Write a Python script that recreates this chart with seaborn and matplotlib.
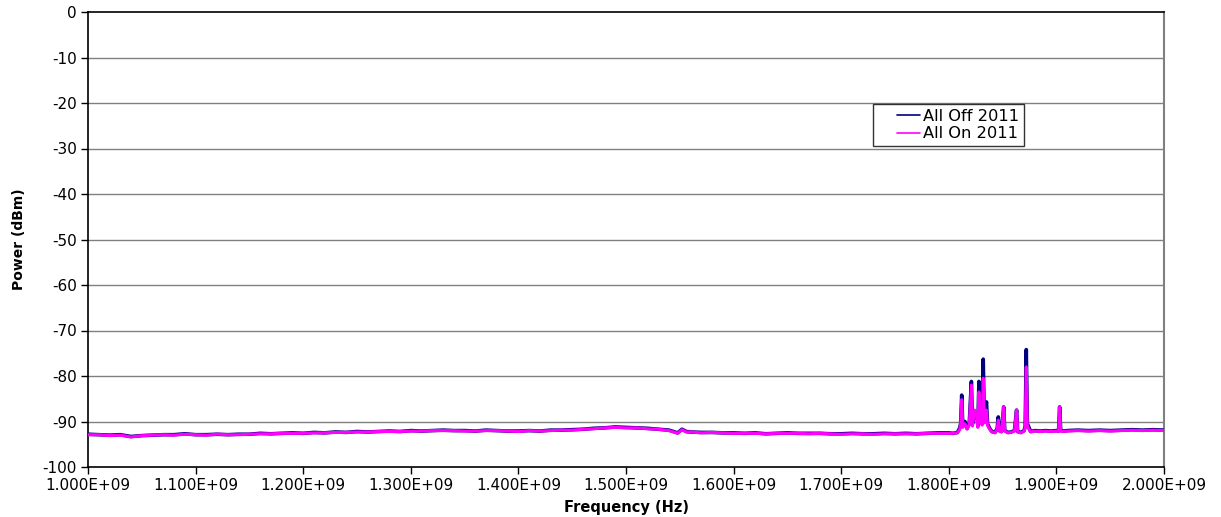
import numpy as np
import pandas as pd
import matplotlib
matplotlib.use("Agg")
import matplotlib.pyplot as plt
import seaborn as sns

# ---------------- data (frequency in MHz, power in dBm) ----------------
freq_mhz = [
    1000, 1010, 1020, 1030, 1040, 1050, 1060, 1070, 1080, 1090,
    1100, 1110, 1120, 1130, 1140, 1150, 1160, 1170, 1180, 1190,
    1200, 1210, 1220, 1230, 1240, 1250, 1260, 1270, 1280, 1290,
    1300, 1310, 1320, 1330, 1340, 1350, 1360, 1370, 1380, 1390,
    1400, 1410, 1420, 1430, 1440, 1450, 1460, 1470, 1480, 1490,
    1500, 1510, 1520, 1530, 1540, 1548, 1552, 1556, 1560, 1570,
    1580, 1590, 1600, 1610, 1620, 1630, 1640, 1650, 1660, 1670,
    1680, 1690, 1700, 1710, 1720, 1730, 1740, 1750, 1760, 1770,
    1780, 1790, 1800, 1804, 1808, 1810, 1811, 1812, 1813, 1815,
    1817, 1819, 1821, 1822, 1824, 1826, 1827, 1828, 1829, 1830,
    1831, 1832, 1833, 1835, 1836, 1838, 1840, 1843, 1845, 1846,
    1847, 1849, 1851, 1852, 1855, 1858, 1861, 1863, 1864, 1867,
    1870, 1871, 1872, 1873, 1874, 1876, 1880, 1885, 1890, 1895,
    1900, 1902, 1903, 1904, 1907, 1910, 1920, 1930, 1940, 1950,
    1960, 1970, 1980, 1990, 2000,
]

all_off = [
    -92.8, -92.9, -93.0, -92.9, -93.3, -93.1, -93.0, -92.9, -92.9, -92.7,
    -92.9, -92.9, -92.8, -92.9, -92.8, -92.8, -92.6, -92.7, -92.6, -92.5,
    -92.6, -92.4, -92.5, -92.3, -92.4, -92.2, -92.3, -92.2, -92.1, -92.2,
    -92.0, -92.1, -92.0, -91.9, -92.0, -92.0, -92.1, -91.9, -92.0, -92.1,
    -92.1, -92.0, -92.1, -91.9, -91.9, -91.8, -91.7, -91.5, -91.4, -91.2,
    -91.3, -91.4, -91.5, -91.7, -91.9, -92.5, -91.7, -92.2, -92.3, -92.4,
    -92.4, -92.5, -92.5, -92.6, -92.5, -92.7, -92.6, -92.5, -92.6, -92.6,
    -92.6, -92.7, -92.7, -92.6, -92.7, -92.7, -92.6, -92.7, -92.6, -92.7,
    -92.6, -92.5, -92.5, -92.6, -92.4, -91.5, -90.5, -84.2, -91.0, -90.0,
    -91.5, -90.5, -81.2, -90.5, -88.5, -88.2, -91.0, -81.2, -90.0, -87.5,
    -90.5, -76.3, -90.0, -85.7, -90.5, -91.5, -92.2, -92.4, -91.5, -89.0,
    -92.0, -92.2, -86.8, -92.0, -92.4, -92.3, -92.0, -87.5, -92.2, -92.4,
    -92.0, -91.0, -74.2, -90.5, -91.0, -92.2, -92.0, -92.1, -92.0, -92.1,
    -92.0, -92.1, -86.8, -92.0, -92.1, -92.0, -91.9, -92.0, -91.9, -92.0,
    -91.9, -91.8, -91.9, -91.8, -91.9,
]

all_on = [
    -92.9, -92.9, -93.1, -93.0, -93.4, -93.1, -93.0, -92.9, -93.0, -92.8,
    -92.9, -93.0, -92.8, -92.9, -92.9, -92.8, -92.7, -92.7, -92.6, -92.6,
    -92.6, -92.5, -92.5, -92.4, -92.4, -92.3, -92.3, -92.2, -92.2, -92.2,
    -92.1, -92.1, -92.0, -92.0, -92.0, -92.1, -92.1, -92.0, -92.0, -92.1,
    -92.2, -92.0, -92.1, -92.0, -91.9, -91.9, -91.7, -91.6, -91.4, -91.3,
    -91.4, -91.4, -91.6, -91.7, -92.0, -92.6, -91.8, -92.3, -92.3, -92.5,
    -92.4, -92.5, -92.6, -92.6, -92.6, -92.7, -92.6, -92.6, -92.6, -92.7,
    -92.6, -92.7, -92.8, -92.7, -92.7, -92.8, -92.7, -92.7, -92.7, -92.7,
    -92.6, -92.6, -92.6, -92.6, -92.5, -91.8, -90.8, -85.2, -91.3, -90.5,
    -91.7, -90.8, -82.0, -91.0, -87.5, -89.0, -91.3, -83.5, -90.3, -88.0,
    -90.8, -80.5, -90.3, -87.5, -90.8, -91.7, -92.3, -92.5, -91.7, -89.7,
    -92.1, -92.3, -86.8, -92.1, -92.5, -92.4, -92.1, -87.5, -92.3, -92.5,
    -92.1, -91.3, -78.0, -91.0, -91.5, -92.3, -92.1, -92.2, -92.1, -92.2,
    -92.1, -92.2, -86.8, -92.1, -92.2, -92.1, -92.0, -92.1, -92.0, -92.1,
    -92.0, -91.9, -92.0, -91.9, -92.0,
]

series_names = ["All Off 2011", "All On 2011"]
series_colors = ["#000080", "#FF00FF"]
x_ticks_hz = [1.0e9, 1.1e9, 1.2e9, 1.3e9, 1.4e9, 1.5e9, 1.6e9, 1.7e9, 1.8e9, 1.9e9, 2.0e9]
y_ticks = [0, -10, -20, -30, -40, -50, -60, -70, -80, -90, -100]

# ---------------- figure ----------------
sns.set_theme(style="white")
plt.rcParams["font.family"] = ["DejaVu Sans"]
plt.rcParams["axes.unicode_minus"] = False
plt.rcParams["text.color"] = "black"
plt.rcParams["axes.labelcolor"] = "black"
plt.rcParams["xtick.color"] = "black"
plt.rcParams["ytick.color"] = "black"

fig = plt.figure(figsize=(12.21, 5.17), dpi=100)
ax = fig.add_axes([88 / 1221, 1 - 467 / 517, (1164 - 88) / 1221, (467 - 12) / 517])

freq_hz = np.array(freq_mhz, dtype=float) * 1e6
df = pd.concat([
    pd.DataFrame({"Frequency": freq_hz, "Power": all_off, "Series": series_names[0]}),
    pd.DataFrame({"Frequency": freq_hz, "Power": all_on, "Series": series_names[1]}),
], ignore_index=True)

for gy in y_ticks[1:-1]:
    ax.axhline(gy, color="#808080", lw=1.0, zorder=0)

sns.lineplot(data=df[df["Series"] == series_names[0]], x="Frequency", y="Power",
             color=series_colors[0], lw=2.6, ax=ax, label=series_names[0],
             estimator=None, sort=False, zorder=3)
sns.lineplot(data=df[df["Series"] == series_names[1]], x="Frequency", y="Power",
             color=series_colors[1], lw=2.2, ax=ax, label=series_names[1],
             estimator=None, sort=False, zorder=4)

ax.set_xlim(1.0e9, 2.0e9)
ax.set_ylim(-100, 0)
ax.set_xticks(x_ticks_hz)
ax.set_xticklabels(["{:.3E}".format(v) for v in x_ticks_hz], fontsize=11)
ax.set_yticks(y_ticks)
ax.set_yticklabels([str(v) for v in y_ticks], fontsize=11)
ax.tick_params(axis="both", direction="out", length=5, width=1, color="black",
               bottom=True, left=True, pad=3)

ax.set_xlabel("Frequency (Hz)", fontsize=10.5, fontweight="bold", labelpad=5)
ax.set_ylabel("Power (dBm)", fontsize=10, fontweight="bold", labelpad=12)

for side in ["left", "bottom", "top"]:
    ax.spines[side].set_color("black")
    ax.spines[side].set_linewidth(1.2)
ax.spines["right"].set_color("#808080")
ax.spines["right"].set_linewidth(1.5)

leg = ax.legend(loc="upper left", bbox_to_anchor=(873 / 1221, 1 - 104 / 517),
                bbox_transform=fig.transFigure, frameon=True, fancybox=False,
                fontsize=11.7, handlelength=2.6, handletextpad=0.2,
                borderpad=0.28, labelspacing=0.18, borderaxespad=0)
leg.get_frame().set_edgecolor("black")
leg.get_frame().set_linewidth(1.0)
for line in leg.get_lines():
    line.set_linewidth(1.2)
    xd = np.asarray(line.get_xdata(), dtype=float)
    yd = np.asarray(line.get_ydata(), dtype=float)
    x0, x1 = xd.min(), xd.max()
    line.set_data([x0 + (x1 - x0) * 0.45, x1], [yd[0], yd[0]])

fig.savefig("out.png", dpi=100, facecolor="white")
